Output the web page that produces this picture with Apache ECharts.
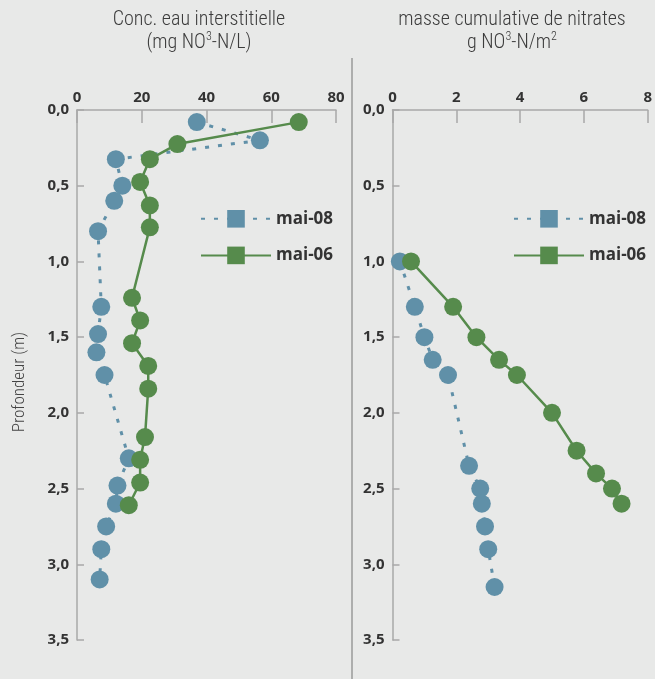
<!DOCTYPE html>
<html><head><meta charset="utf-8">
<script src="https://cdn.jsdelivr.net/npm/echarts@6/dist/echarts.min.js"></script>
<style>html,body{margin:0;padding:0;background:#e8e9e8}#c{width:655px;height:679px}</style>
</head><body><div id="c"></div>
<script>
// ---- data ----
const seriesNames = ['mai-08', 'mai-06'];
const concTicks = [0, 20, 40, 60, 80];
const massTicks = [0, 2, 4, 6, 8];
const depthTicks = [0, 0.5, 1, 1.5, 2, 2.5, 3, 3.5];

// left panel: concentration (mg NO3-N/L) vs depth (m)
const depth08Conc = [0.08, 0.2, 0.325, 0.5, 0.6, 0.8, 1.3, 1.48, 1.6, 1.75, 2.3, 2.48, 2.6, 2.75, 2.9, 3.1];
const conc08      = [37, 56.5, 12, 14, 11.5, 6.5, 7.5, 6.5, 6, 8.5, 16, 12.5, 12, 9, 7.5, 7];
const depth06Conc = [0.08, 0.225, 0.325, 0.475, 0.63, 0.775, 1.24, 1.39, 1.54, 1.69, 1.84, 2.16, 2.31, 2.46, 2.61];
const conc06      = [68.5, 31, 22.5, 19.5, 22.5, 22.5, 17, 19.5, 17, 22, 22, 21, 19.5, 19.5, 16];

// right panel: cumulative mass (g NO3-N/m2) vs depth (m)
const depth08Mass = [1.0, 1.3, 1.5, 1.65, 1.75, 2.35, 2.5, 2.6, 2.75, 2.9, 3.15];
const mass08      = [0.23, 0.7, 1.0, 1.26, 1.74, 2.4, 2.75, 2.8, 2.9, 3.0, 3.2];
const depth06Mass = [1.0, 1.3, 1.5, 1.65, 1.75, 2.0, 2.25, 2.4, 2.5, 2.6];
const mass06      = [0.58, 1.9, 2.63, 3.34, 3.9, 5.0, 5.77, 6.38, 6.88, 7.18];

// ---- styles ----
const BLUE = '#6090a8', GREEN = '#568b4c', AXIS = '#a8a8a8', TXT = '#333';
const NARROW = "'Roboto Condensed','DejaVu Sans Condensed',sans-serif";
const LABEL = "'Open Sans',sans-serif";
const pair = (xs, ys) => xs.map((x, i) => [x, ys[i]]);
const fmt = v => v.toFixed(1).replace('.', ',');

function xAxis(grid, ticks) {
  return {
    type: 'value', gridIndex: grid, position: 'top',
    min: ticks[0], max: ticks[ticks.length - 1], interval: ticks[1] - ticks[0],
    axisLine: { show: true, lineStyle: { color: AXIS, width: 1.5 } },
    axisTick: { show: true, inside: true, length: 13, lineStyle: { color: AXIS, width: 1.5 } },
    axisLabel: { color: TXT, fontSize: 15, fontWeight: 'bold', fontFamily: LABEL, margin: 5 },
    splitLine: { show: false }
  };
}
function yAxis(grid, name) {
  return {
    type: 'value', gridIndex: grid, inverse: true,
    min: depthTicks[0], max: depthTicks[depthTicks.length - 1], interval: depthTicks[1] - depthTicks[0],
    name: name, nameLocation: 'middle', nameGap: 49,
    nameTextStyle: { color: '#444', fontSize: 17, fontWeight: 300, fontFamily: NARROW, padding: [0, 14, 0, 0] },
    axisLine: { show: true, lineStyle: { color: AXIS, width: 1.5 } },
    axisTick: { show: true, inside: true, length: 7, lineStyle: { color: AXIS, width: 1.5 } },
    axisLabel: { color: TXT, fontSize: 15, fontWeight: 'bold', fontFamily: LABEL, margin: 8, formatter: fmt },
    splitLine: { show: false }
  };
}
const dotted = { color: BLUE, width: 3, type: [4, 9] };
const solid = { color: GREEN, width: 2.5 };
function dataSeries(name, grid, data, color, ls) {
  return {
    name: name, type: 'line', xAxisIndex: grid, yAxisIndex: grid, data: data,
    symbol: 'circle', symbolSize: 18, showSymbol: true, showAllSymbol: true,
    itemStyle: { color: color }, lineStyle: ls, animation: false, z: name === seriesNames[1] ? 3 : 2
  };
}
function legendSeries(name, color, ls) {
  return { name: name, type: 'line', xAxisIndex: 0, yAxisIndex: 0, data: [], symbol: 'rect',
    itemStyle: { color: color }, lineStyle: ls };
}
const titleRich = {
  t: { fontSize: 20, fontWeight: 300, fontFamily: NARROW, color: '#3c3c3c', lineHeight: 23 },
  s: { fontSize: 12, fontWeight: 300, fontFamily: NARROW, color: '#3c3c3c', lineHeight: 23, verticalAlign: 'top', padding: [0, 0, 8, 0] }
};
function legend(left) {
  return {
    data: seriesNames, orient: 'vertical', left: left, top: 210, padding: 0,
    itemWidth: 70, itemHeight: 22, itemGap: 19, selectedMode: false,
    textStyle: { color: TXT, fontSize: 17, fontWeight: 'bold', fontFamily: LABEL }
  };
}

const chart = echarts.init(document.getElementById('c'), null, { renderer: 'canvas' });
chart.setOption({
  backgroundColor: '#e8e9e8',
  animation: false,
  title: [
    { left: 194, top: 3, textAlign: 'center',
      text: '{t|Conc. eau interstitielle}\n{t|(mg NO}{s|3}{t|-N/L)}',
      textStyle: { fontWeight: 300, rich: titleRich } },
    { left: 507, top: 3, textAlign: 'center',
      text: '{t|masse cumulative de nitrates}\n{t|g NO}{s|3}{t|-N/m}{s|2}',
      textStyle: { fontWeight: 300, rich: titleRich } }
  ],
  grid: [
    { left: 77, top: 110, width: 259, height: 530 },
    { left: 392.5, top: 110, width: 259, height: 530 }
  ],
  xAxis: [xAxis(0, concTicks), xAxis(1, massTicks)],
  yAxis: [yAxis(0, 'Profondeur (m)'), yAxis(1, '')],
  legend: [legend(200), legend(513)],
  series: [
    legendSeries(seriesNames[0], BLUE, dotted),
    legendSeries(seriesNames[1], GREEN, solid),
    dataSeries(seriesNames[0], 0, pair(conc08, depth08Conc), BLUE, dotted),
    dataSeries(seriesNames[1], 0, pair(conc06, depth06Conc), GREEN, solid),
    dataSeries(seriesNames[0], 1, pair(mass08, depth08Mass), BLUE, dotted),
    dataSeries(seriesNames[1], 1, pair(mass06, depth06Mass), GREEN, solid)
  ],
  graphic: [
    { type: 'line', shape: { x1: 352, y1: 58, x2: 352, y2: 679 }, style: { stroke: '#9a9a9a', lineWidth: 1.5 }, silent: true }
  ]
});
</script></body></html>
